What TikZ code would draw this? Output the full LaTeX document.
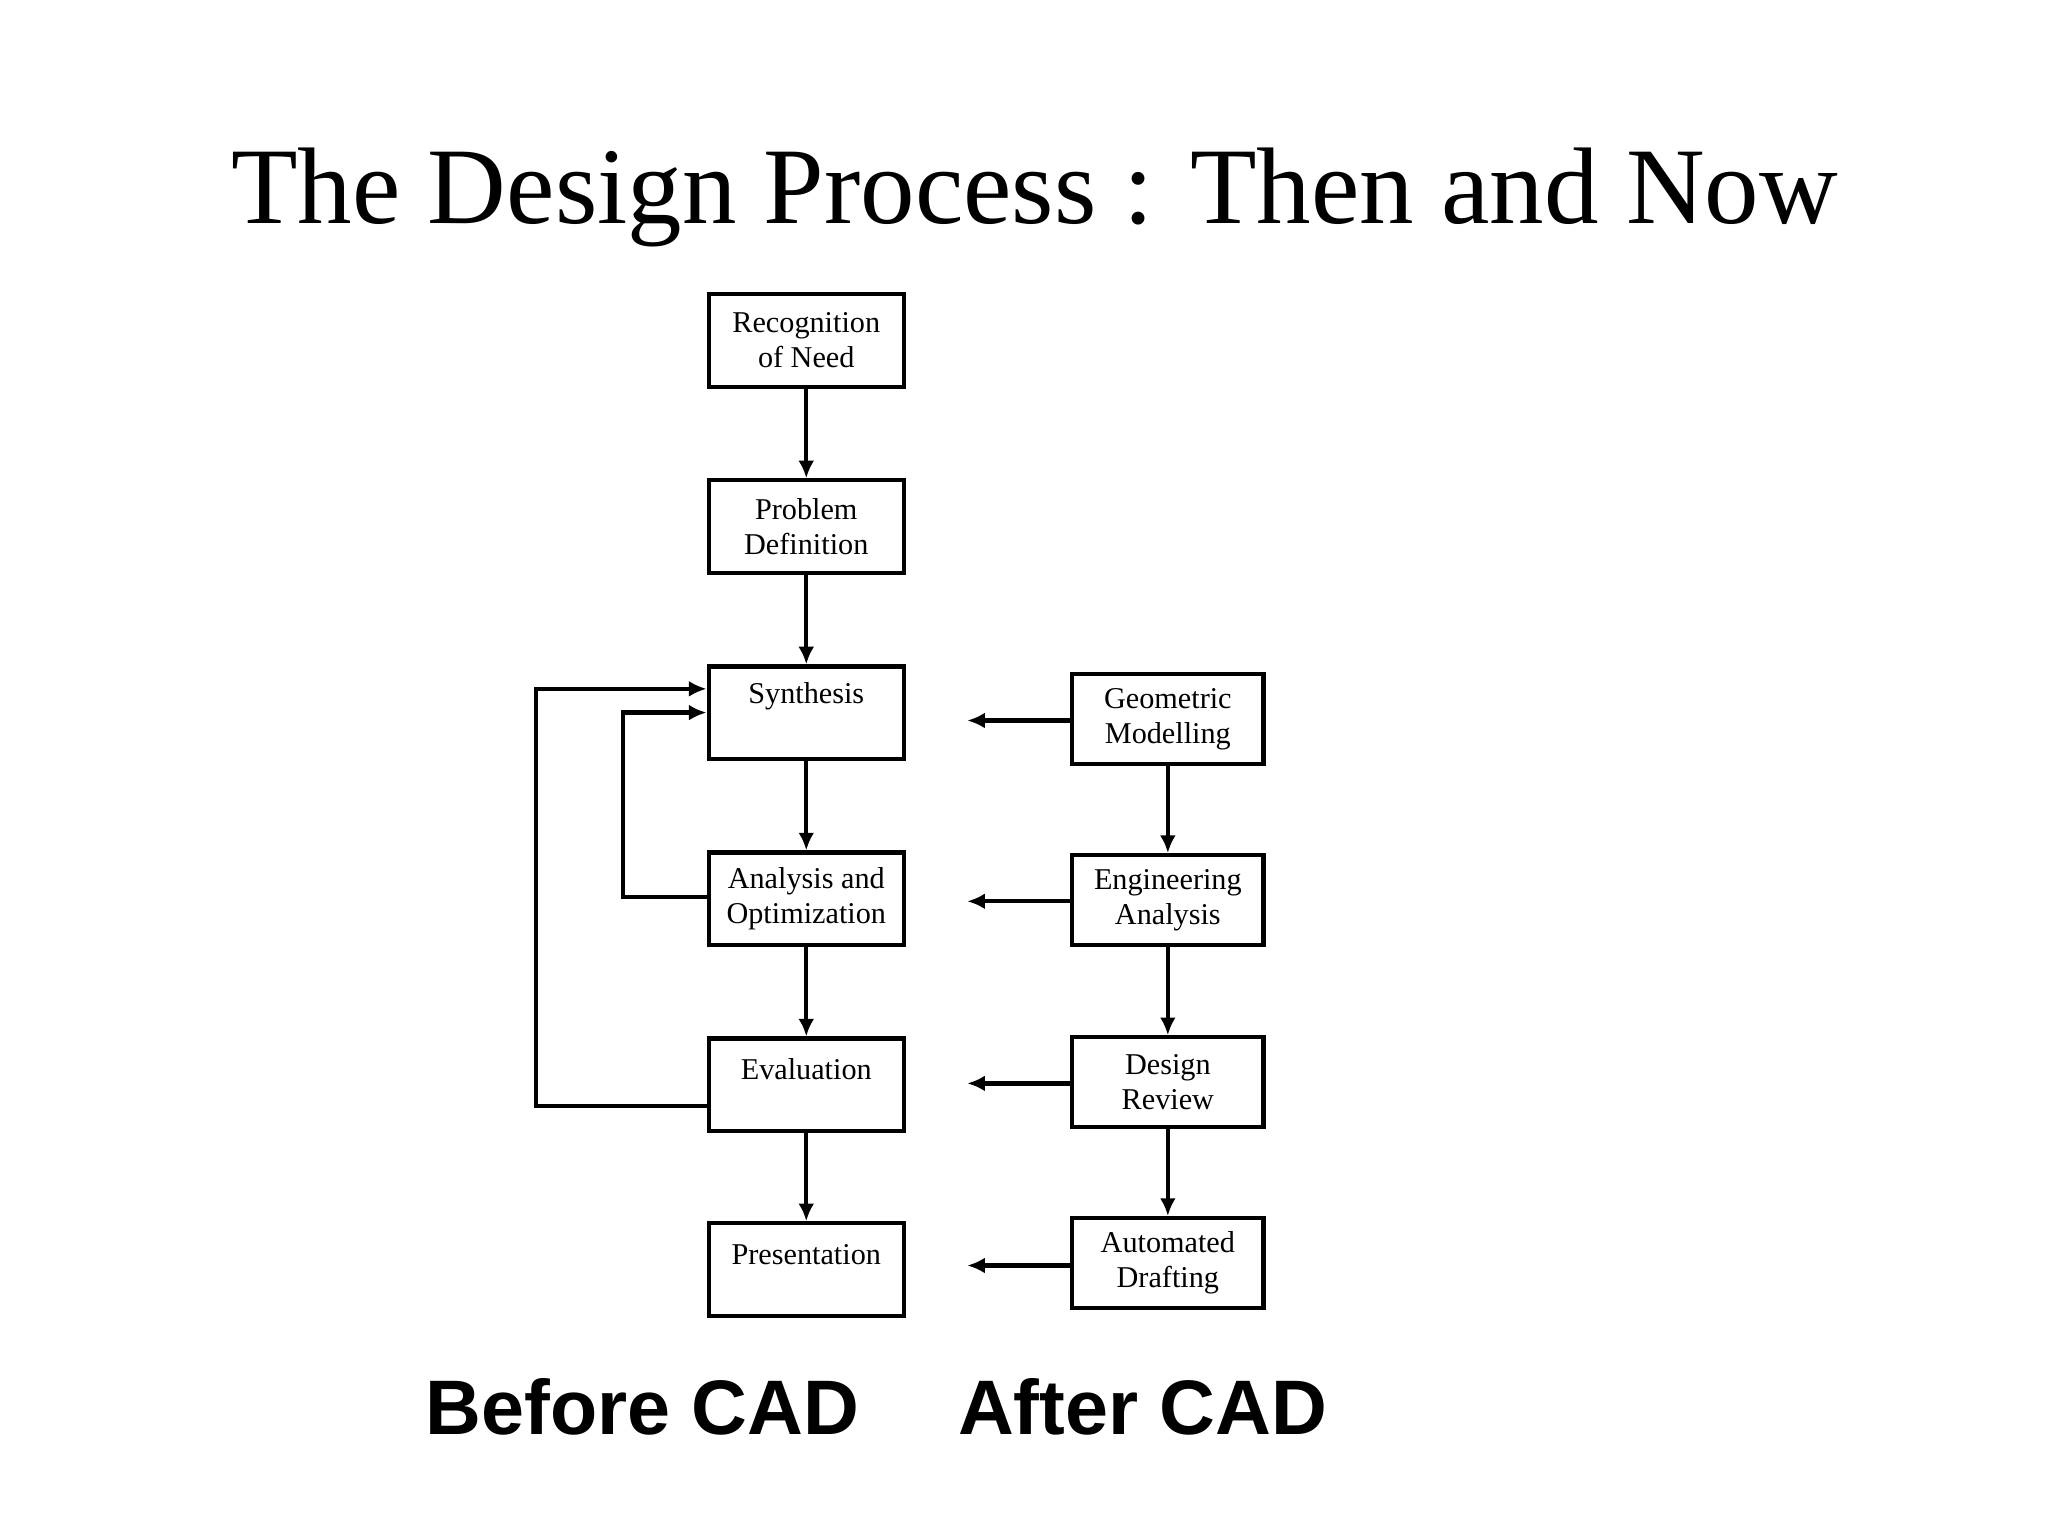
\documentclass[tikz,border=0pt]{standalone}
\usepackage{fontspec}
\setmainfont{Liberation Serif}
\newfontfamily\labfont{Liberation Sans}
\usetikzlibrary{arrows.meta}
\begin{document}
\begin{tikzpicture}[x=0.013196cm,y=-0.013196cm,
  box/.style={draw,line width=1.2pt,minimum width=148*0.13196mm,minimum height=70*0.13196mm,align=center,font=\fontsize{8.6}{10}\selectfont,inner sep=0pt},
  arr/.style={line width=1.2pt,-{Latex[length=5pt,width=4.5pt]}},
  ln/.style={line width=1.2pt}]
\useasboundingbox (0,0) rectangle (1552,1164);
\node[font=\fontsize{31}{36}\selectfont] (title) at (784,150) {The Design Process : Then and Now};
\node[box] (a) at (611,258) {Recognition\\of Need};
\node[box] (b) at (611,399) {Problem\\Definition};
\node[box] (c) at (611,540) {};
\node[font=\fontsize{8.6}{10}\selectfont] (ct) at (611,528) {Synthesis};
\node[box] (d) at (611,681) {Analysis and\\Optimization};
\node[box] (e) at (611,822) {};
\node[font=\fontsize{8.6}{10}\selectfont] (et) at (611,810) {Evaluation};
\node[box] (f) at (611,962) {};
\node[font=\fontsize{8.6}{10}\selectfont] (ft) at (611,951) {Presentation};
\node[box,minimum width=145*0.13196mm,minimum height=68*0.13196mm] (g) at (885,545) {Geometric\\Modelling};
\node[box,minimum width=145*0.13196mm,minimum height=68*0.13196mm] (h) at (885,682) {Engineering\\Analysis};
\node[box,minimum width=145*0.13196mm,minimum height=68*0.13196mm] (i) at (885,820) {Design\\Review};
\node[box,minimum width=145*0.13196mm,minimum height=68*0.13196mm] (j) at (885,957) {Automated\\Drafting};
\draw[arr] (a) -- (b);
\draw[arr] (b) -- (c);
\draw[arr] (c) -- (d);
\draw[arr] (d) -- (e);
\draw[arr] (e) -- (f);
\draw[arr] (g) -- (h);
\draw[arr] (h) -- (i);
\draw[arr] (i) -- (j);
\coordinate (p1) at (733,546); \coordinate (p2) at (733,683);
\coordinate (p3) at (733,821); \coordinate (p4) at (733,959);
\draw[arr] (g.west|-p1) -- (p1);
\draw[arr] (h.west|-p2) -- (p2);
\draw[arr] (i.west|-p3) -- (p3);
\draw[arr] (j.west|-p4) -- (p4);
\draw[arr] (e.west|-0,838) -- (406,838) -- (406,522) -- (c.west|-0,522);
\draw[arr] (d.west|-0,680) -- (472,680) -- (472,540) -- (c.west|-0,540);
\node[font=\labfont\bfseries\fontsize{22}{26}\selectfont] (l1) at (487,1066) {Before CAD};
\node[font=\labfont\bfseries\fontsize{22}{26}\selectfont] (l2) at (866,1066) {After CAD};
\end{tikzpicture}
\end{document}
